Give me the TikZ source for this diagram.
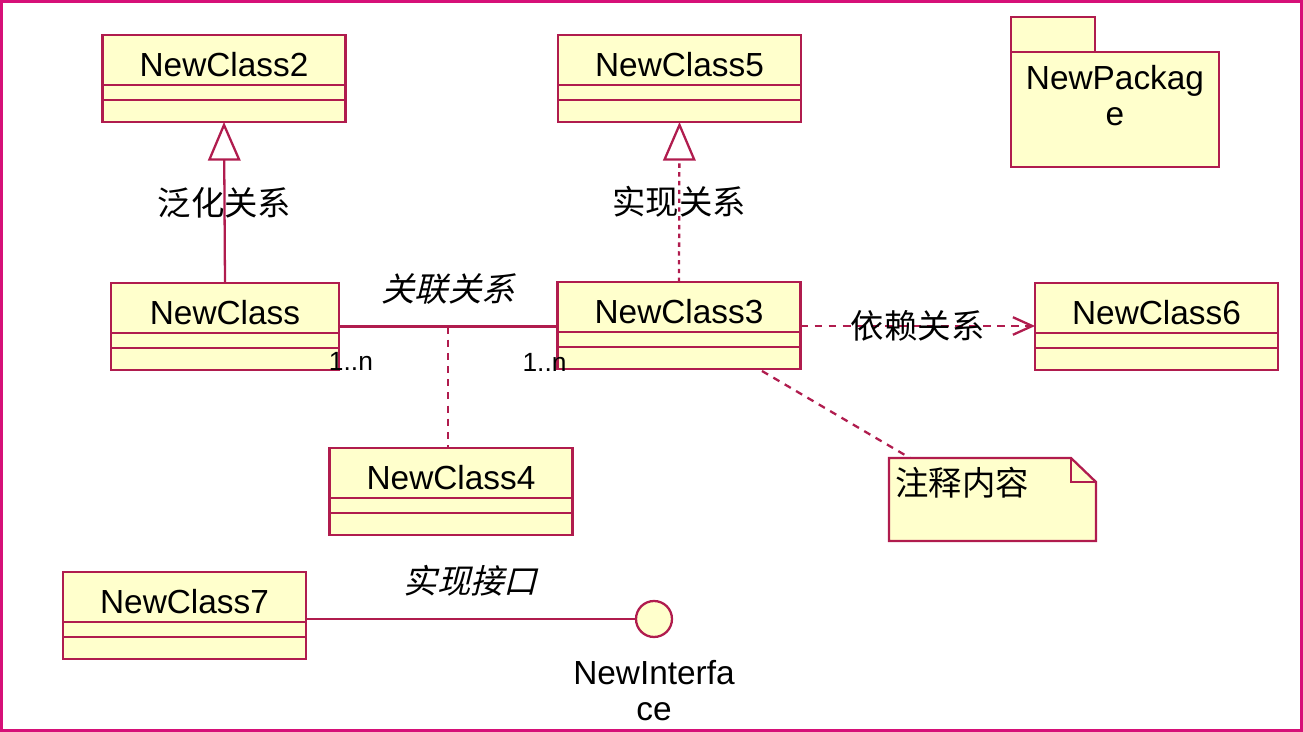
\documentclass[tikz,border=0pt]{standalone}
\usepackage{fontspec}
\setmainfont{Liberation Sans}
\newfontfamily\cjk{Noto Sans CJK SC}
\newfontfamily\cjkit[FakeSlant=0.25]{Noto Sans CJK SC}
\usepackage{xcolor}
\usetikzlibrary{arrows.meta,positioning,calc}

\definecolor{umlline}{RGB}{176,28,78}
\definecolor{umlfill}{RGB}{255,255,204}
\definecolor{framepink}{RGB}{214,16,120}

\begin{document}
\begin{tikzpicture}[
    x=0.02cm, y=-0.02cm,
    umlbox/.style={rectangle, draw=umlline, fill=umlfill, line width=1.3pt, outer sep=0pt, inner sep=0pt, minimum width=4.86cm, font=\fontsize{19}{20.5}\selectfont},
    namebox/.style={umlbox, minimum height=1cm, text height=0.65cm, text depth=0pt},
    attrbox/.style={umlbox, minimum height=0.3cm},
    opbox/.style={umlbox, minimum height=0.44cm},
    cjklabel/.style={font=\cjk\fontsize{19}{22}\selectfont},
    cjkslant/.style={font=\cjkit\fontsize{19}{22}\selectfont},
    mult/.style={font=\fontsize{15}{18}\selectfont},
    assoc/.style={draw=umlline, line width=1.3pt},
    genarrow/.style={assoc, -{Triangle[open, length=22pt, width=18.5pt]}},
    realarrow/.style={genarrow, dash pattern=on 2.5pt off 2.5pt},
    deparrow/.style={assoc, dash pattern=on 4.5pt off 3.5pt, -{Straight Barb[length=11pt, width=10pt]}},
    linkline/.style={assoc, dash pattern=on 4pt off 3.5pt},
    notebox/.style={rectangle, minimum width=4.14cm, minimum height=1.66cm, outer sep=0pt},
    iface/.style={circle, draw=umlline, fill=umlfill, line width=1.3pt, minimum size=0.72cm, inner sep=0pt}
]
    \useasboundingbox (0,0) rectangle (1303,732);
    \draw[framepink, line width=1.7pt] (1.5,1.5) rectangle (1301.5,730.5);

    % classes
    \node[namebox] (c2) at (224,60) {NewClass2};
    \node[attrbox, below=0pt of c2] (c2a) {};
    \node[opbox, below=0pt of c2a] (c2o) {};

    \node[namebox] (c5) at (679.5,60) {NewClass5};
    \node[attrbox, below=0pt of c5] (c5a) {};
    \node[opbox, below=0pt of c5a] (c5o) {};

    \node[namebox, minimum width=4.56cm] (c1) at (225,308) {NewClass};
    \node[attrbox, minimum width=4.56cm, below=0pt of c1] (c1a) {};
    \node[opbox, minimum width=4.56cm, below=0pt of c1a] (c1o) {};

    \node[namebox] (c3) at (679,307) {NewClass3};
    \node[attrbox, below=0pt of c3] (c3a) {};
    \node[opbox, below=0pt of c3a] (c3o) {};

    \node[namebox] (c6) at (1156.5,308) {NewClass6};
    \node[attrbox, below=0pt of c6] (c6a) {};
    \node[opbox, below=0pt of c6a] (c6o) {};

    \node[namebox] (c4) at (451,473) {NewClass4};
    \node[attrbox, below=0pt of c4] (c4a) {};
    \node[opbox, below=0pt of c4a] (c4o) {};

    \node[namebox] (c7) at (184.5,597) {NewClass7};
    \node[attrbox, below=0pt of c7] (c7a) {};
    \node[opbox, below=0pt of c7a] (c7o) {};

    % package
    \node[umlbox, minimum width=1.68cm, minimum height=0.7cm] (pkgtab) at (1053,34.5) {};
    \node[umlbox, minimum width=4.16cm, minimum height=2.3cm, below right=0pt and 0pt of pkgtab.south west,
        label={[anchor=north, yshift=-0.15cm, align=center, font=\fontsize{19}{20.5}\selectfont]north:{NewPackag\\e}}] (pkg) {};

    % note
    \path node[notebox] (note) at (992.5,499.5) {};
    \draw[assoc, fill=umlfill] (note.north west) -- ([xshift=-0.5cm]note.north east) -- ([yshift=-0.48cm]note.north east)
        -- (note.south east) -- (note.south west) -- cycle;
    \draw[assoc] ([xshift=-0.5cm]note.north east) |- ([yshift=-0.48cm]note.north east);
    \node[cjklabel, inner sep=0pt, below right=0.18cm and 0.12cm of note.north west] (notetext) {注释内容};

    % interface
    \node[iface, label={[align=center, label distance=0.32cm, font=\fontsize{19}{20.5}\selectfont]below:{NewInterfa\\ce}}] (ifc) at (654,619) {};

    % relations
    \draw[genarrow] (c1.north) -- node[cjklabel] {泛化关系} (c2o.south);
    \draw[realarrow] (c3.north) -- node[cjklabel] {实现关系} (c5o.south);

    \coordinate (a1) at ([yshift=0.13cm]c1.south east);
    \draw[assoc] (a1) -- (a1 -| c3.west)
        node[cjkslant, midway, yshift=0.74cm] {关联关系}
        node[mult, at start, xshift=0.24cm, yshift=-0.7cm] {1..n}
        node[mult, at end, xshift=-0.26cm, yshift=-0.72cm] {1..n}
        coordinate[midway] (assocmid);
    \draw[linkline] (assocmid) -- (assocmid |- c4.north);

    \coordinate (d3) at ([yshift=0.12cm]c3.south east);
    \draw[deparrow] (d3) -- node[cjklabel] {依赖关系} (d3 -| c6.west);

    \draw[linkline] ([xshift=1.66cm, yshift=-0.04cm]c3o.south) -- ([xshift=0.42cm]note.north west);

    \coordinate (i7) at ([yshift=0.06cm]c7.south east);
    \draw[assoc] (i7) -- node[cjkslant, yshift=0.76cm] {实现接口} (i7 -| ifc.west);
\end{tikzpicture}
\end{document}
